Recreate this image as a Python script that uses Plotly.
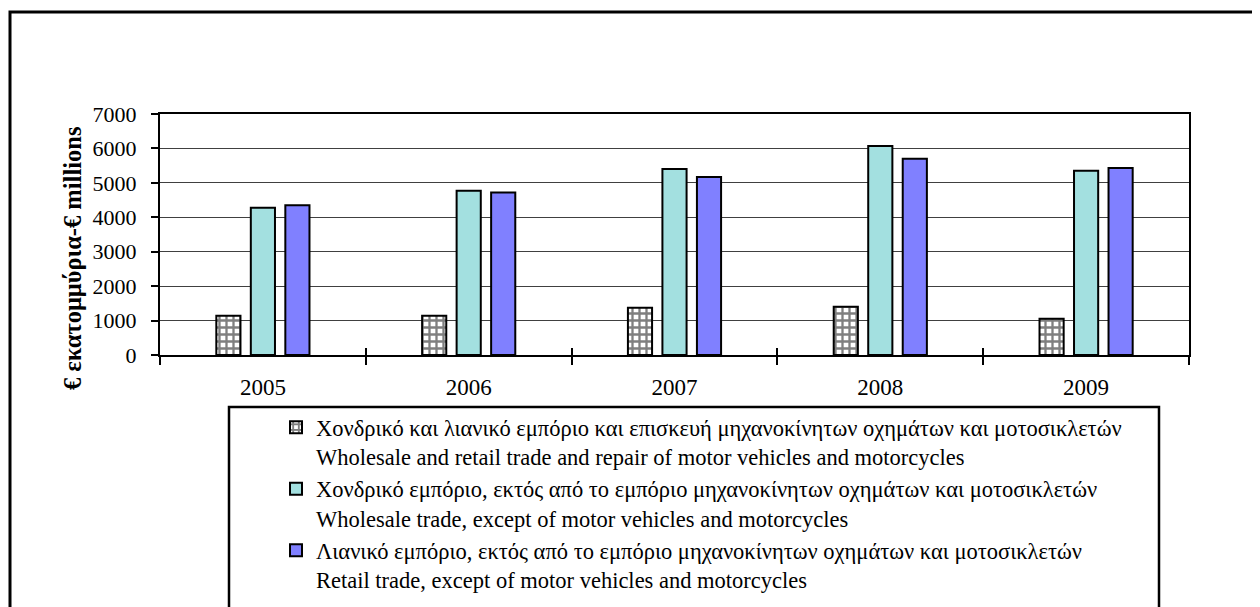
import plotly.graph_objects as go

years = ["2005", "2006", "2007", "2008", "2009"]
trade_repair = [1140, 1140, 1370, 1400, 1050]
wholesale = [4280, 4770, 5400, 6070, 5350]
retail = [4350, 4720, 5170, 5700, 5430]

names = [
    "Χονδρικό και λιανικό εμπόριο και επισκευή μηχανοκίνητων οχημάτων και μοτοσικλετών<br>Wholesale and retail trade and repair of motor vehicles and motorcycles",
    "Χονδρικό εμπόριο, εκτός από το εμπόριο μηχανοκίνητων οχημάτων και μοτοσικλετών<br>Wholesale trade, except of motor vehicles and motorcycles",
    "Λιανικό εμπόριο, εκτός από το εμπόριο μηχανοκίνητων οχημάτων και μοτοσικλετών<br>Retail trade, except of motor vehicles and motorcycles",
]
y_title = "€ εκατομμύρια-€ millions"

FONT = "Liberation Serif, Times New Roman, serif"
OFF = 8  # page body margin
W, H = 1260 - 2 * OFF, 760  # taller than the window so the legend never shrinks the plot
# target plot-area edges in screen pixels
L, R, T, B = 160, 1189, 114, 355
pw, ph = R - L, B - T

def px(x):
    return (x - L) / pw

def py(y):
    return (B - y) / ph

fig = go.Figure()
fig.add_trace(go.Bar(
    x=years, y=trade_repair, name=names[0], legendgroup="a",
    marker=dict(color="white", line=dict(color="black", width=2),
                pattern=dict(shape="+", fgcolor="black", bgcolor="white",
                             size=7, solidity=0.55)),
))
fig.add_trace(go.Bar(
    x=years, y=wholesale, name=names[1], legendgroup="b",
    marker=dict(color="#A3E0E0", line=dict(color="black", width=2)),
))
fig.add_trace(go.Bar(
    x=years, y=retail, name=names[2], legendgroup="c",
    marker=dict(color="#8080FF", line=dict(color="black", width=2)),
))

fig.update_layout(
    width=W, height=H,
    margin=dict(l=L - OFF, r=W - (R - OFF), t=T - OFF, b=H - (B - OFF), pad=0),
    paper_bgcolor="white", plot_bgcolor="white",
    font=dict(family=FONT, size=22, color="black"),
    barmode="group", bargap=0.497, bargroupgap=0.3,
    showlegend=True,
    legend=dict(
        x=px(276), y=py(406), xanchor="left", yanchor="top",
        font=dict(family=FONT, size=22.5, color="black"),
        bgcolor="rgba(0,0,0,0)", borderwidth=0,
        tracegroupgap=0, valign="top",
        itemclick=False,
    ),
    xaxis=dict(
        type="category", categoryorder="array", categoryarray=years,
        showline=True, linecolor="black", linewidth=2, mirror=True,
        ticks="outside", tickson="boundaries", ticklen=8, tickwidth=2,
        tickcolor="black", showgrid=False, zeroline=False,
        tickfont=dict(family=FONT, size=23), ticklabelstandoff=10,
    ),
    xaxis2=dict(
        overlaying="x", anchor="y", side="bottom",
        range=[-0.5, 4.5], tickmode="array",
        tickvals=[-0.5, 0.5, 1.5, 2.5, 3.5, 4.5],
        ticks="inside", ticklen=7, tickwidth=2, tickcolor="black",
        showticklabels=False, showline=False, showgrid=False, zeroline=False,
    ),
    yaxis=dict(
        range=[0, 7000], dtick=1000, tick0=0,
        showline=True, linecolor="black", linewidth=2, mirror=True,
        ticks="outside", ticklen=7, tickwidth=1.5, tickcolor="black",
        showgrid=True, gridcolor="#404040", gridwidth=1, zeroline=False,
        tickfont=dict(family=FONT, size=22), ticklabelstandoff=10,
    ),
    annotations=[
        dict(text="<b>" + y_title + "</b>", xref="paper", yref="paper",
             x=px(72), y=py(259), xanchor="center", yanchor="middle",
             textangle=-90, showarrow=False,
             font=dict(family=FONT, size=24.5, color="black")),
    ],
    shapes=[
        dict(type="rect", xref="paper", yref="paper",
             x0=px(229), x1=px(1159), y0=py(900), y1=py(407),
             line=dict(color="black", width=2.5), fillcolor="rgba(0,0,0,0)"),
        dict(type="rect", xref="paper", yref="paper",
             x0=px(10), x1=px(1400), y0=py(900), y1=py(12),
             line=dict(color="black", width=3), fillcolor="rgba(0,0,0,0)"),
    ],
)

# invisible helper trace so xaxis2 is drawn
fig.add_trace(go.Scatter(x=[0], y=[0], xaxis="x2", mode="markers",
                         marker=dict(opacity=0), showlegend=False,
                         hoverinfo="skip"))

fig.write_html("out.html")
